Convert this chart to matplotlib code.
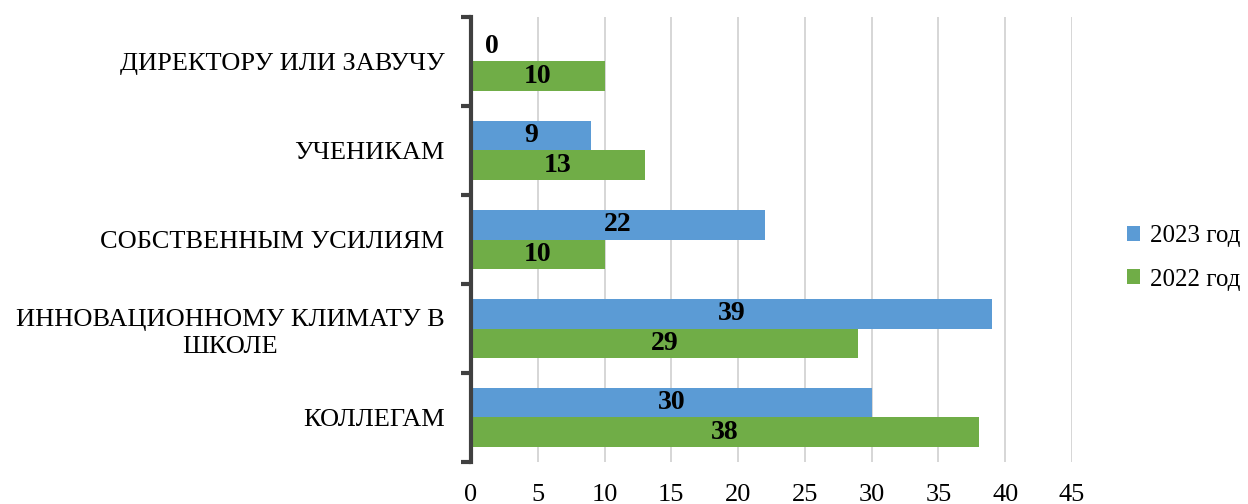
import matplotlib
matplotlib.use("Agg")
import matplotlib.pyplot as plt
import numpy as np

categories = ["КОЛЛЕГАМ", "ИННОВАЦИОННОМУ КЛИМАТУ В\nШКОЛЕ", "СОБСТВЕННЫМ УСИЛИЯМ",
              "УЧЕНИКАМ", "ДИРЕКТОРУ ИЛИ ЗАВУЧУ"]
values_2023 = [30, 39, 22, 9, 0]
values_2022 = [38, 29, 10, 13, 10]
series_names = ["2023 год", "2022 год"]
x_ticks = [0, 5, 10, 15, 20, 25, 30, 35, 40, 45]

plt.rcParams['font.family'] = ['Liberation Serif', 'DejaVu Serif']

fig = plt.figure(figsize=(12.48, 5.04), dpi=100)
ax = fig.add_axes([471/1248, 1-462/504, (1072-471)/1248, (462-17)/504])

y = np.arange(len(categories))
h = 0.326
c23 = "#5B9BD5"
c22 = "#70AD47"
b23 = ax.barh(y + h/2, values_2023, height=h, color=c23, label=series_names[0], zorder=2)
b22 = ax.barh(y - h/2, values_2022, height=h, color=c22, label=series_names[1], zorder=2)

for bars, vals in ((b23, values_2023), (b22, values_2022)):
    for rect, v in zip(bars, vals):
        cx = v / 2 if v > 0 else 1.6
        ax.text(cx, rect.get_y() + rect.get_height()/2, str(v), ha='center', va='center',
                fontsize=20, fontweight='bold', color='black', zorder=3)

ax.set_xlim(0, 45)
ax.set_ylim(-0.5, len(categories) - 0.5)
ax.set_xticks(x_ticks)
ax.set_xticklabels([str(t) for t in x_ticks], fontsize=19)
ax.tick_params(axis='x', length=0, pad=16)
ax.xaxis.grid(True, color='#d0d0d0', linewidth=1.2, zorder=0)
ax.set_axisbelow(True)

ax.set_yticks(y)
ax.set_yticklabels(categories, fontsize=19, multialignment='center', linespacing=1.3)
ax.tick_params(axis='y', which='major', length=0, pad=19)
ax.set_yticks(np.arange(-0.5, len(categories)), minor=True)
ax.tick_params(axis='y', which='minor', length=7, width=3, color='#404040', direction='out')

for s in ['top', 'right', 'bottom']:
    ax.spines[s].set_visible(False)
ax.spines['left'].set_color('#404040')
ax.spines['left'].set_linewidth(3)

leg = fig.legend(handles=[b23, b22], labels=series_names, loc='center left',
                 bbox_to_anchor=(1104/1248, 1-258/504), frameon=False, fontsize=18,
                 handlelength=0.55, handleheight=0.55, handletextpad=0.4, labelspacing=0.85)

fig.savefig("out.png", dpi=100)
